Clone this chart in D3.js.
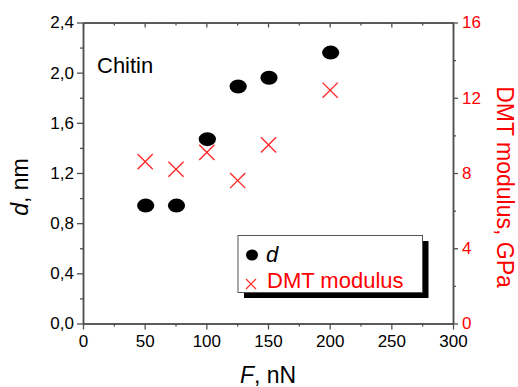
<!DOCTYPE html>
<html><head><meta charset="utf-8">
<script src="https://cdn.jsdelivr.net/npm/d3@7"></script>
<style>
html,body{margin:0;padding:0;background:#fff;}
svg{display:block;font-family:"Liberation Sans",Arial,sans-serif;}
</style></head>
<body>
<svg id="chart" width="518" height="387"></svg>
<script>
const forceNN = [50, 75, 100, 125, 150, 200];
const dValues = [0.94, 0.94, 1.47, 1.89, 1.96, 2.16];
const dmtValues = [8.6, 8.2, 9.1, 7.6, 9.5, 12.4];
const xTicks = [0, 50, 100, 150, 200, 250, 300];
const xMinor = [25, 75, 125, 175, 225, 275];
const yLeftTicks = [0, 0.4, 0.8, 1.2, 1.6, 2.0, 2.4];
const yLeftMinor = [0.2, 0.6, 1.0, 1.4, 1.8, 2.2];
const yRightTicks = [0, 4, 8, 12, 16];
const yRightMinor = [2, 6, 10, 14];

const svg = d3.select("#chart");
const L = 83, R = 453, T = 22.5, B = 323.5;
const axisColor = "#505050";

const x = d3.scaleLinear().domain([0, 300]).range([L, R]);
const yL = d3.scaleLinear().domain([0, 2.4]).range([B, T]);
const yR = d3.scaleLinear().domain([0, 16]).range([B, T]);

const comma = v => d3.format(".1f")(v).replace(".", ",");

function style(g, color) {
  g.selectAll("path.domain").attr("stroke", axisColor).attr("stroke-width", 1.5);
  g.selectAll(".tick line").attr("stroke", axisColor).attr("stroke-width", 1.3);
  g.selectAll(".tick text").attr("fill", color).style("font-size", "17px")
    .style("font-family", '"Liberation Sans",Arial,sans-serif');
}

// bottom axis
let g = svg.append("g").attr("transform", `translate(0,${B})`)
  .call(d3.axisBottom(x).tickValues(xTicks).tickFormat(d3.format("d")).tickSize(6).tickSizeOuter(0).tickPadding(5));
style(g, "#000");
g = svg.append("g").attr("transform", `translate(0,${B})`)
  .call(d3.axisBottom(x).tickValues(xMinor).tickFormat("").tickSize(3).tickSizeOuter(0));
style(g, "#000");
// top axis (inward ticks)
g = svg.append("g").attr("transform", `translate(0,${T})`)
  .call(d3.axisBottom(x).tickValues(xTicks).tickFormat("").tickSize(5).tickSizeOuter(0));
style(g, "#000");
g = svg.append("g").attr("transform", `translate(0,${T})`)
  .call(d3.axisBottom(x).tickValues(xMinor).tickFormat("").tickSize(3).tickSizeOuter(0));
style(g, "#000");
// left axis
g = svg.append("g").attr("transform", `translate(${L},0)`)
  .call(d3.axisLeft(yL).tickValues(yLeftTicks).tickFormat(comma).tickSize(6).tickSizeOuter(0).tickPadding(3));
style(g, "#000");
g = svg.append("g").attr("transform", `translate(${L},0)`)
  .call(d3.axisLeft(yL).tickValues(yLeftMinor).tickFormat("").tickSize(3).tickSizeOuter(0));
style(g, "#000");
// right axis
g = svg.append("g").attr("transform", `translate(${R},0)`)
  .call(d3.axisRight(yR).tickValues(yRightTicks).tickFormat(d3.format("d")).tickSize(5).tickSizeOuter(0).tickPadding(4));
style(g, "#ff0000");
g = svg.append("g").attr("transform", `translate(${R},0)`)
  .call(d3.axisRight(yR).tickValues(yRightMinor).tickFormat("").tickSize(3).tickSizeOuter(0));
style(g, "#ff0000");

// data: d (black ellipses)
svg.append("g").selectAll("ellipse").data(forceNN).join("ellipse")
  .attr("cx", (f) => x(f) + 1)
  .attr("cy", (f, i) => yL(dValues[i]))
  .attr("rx", 8.6).attr("ry", 7)
  .attr("fill", "#000");

// data: DMT (red crosses)
const cs = 7.6;
const crosses = svg.append("g").selectAll("g").data(forceNN).join("g")
  .attr("transform", (f, i) => `translate(${x(f) + 0.5},${yR(dmtValues[i])})`);
crosses.append("path")
  .attr("d", `M${-cs},${-cs}L${cs},${cs}M${-cs},${cs}L${cs},${-cs}`)
  .attr("stroke", "#ff2a2a").attr("stroke-width", 1.4).attr("fill", "none");

// Chitin label
svg.append("text").attr("x", 97).attr("y", 72.5).text("Chitin")
  .style("font-size", "22px").attr("fill", "#000");

// legend
const lg = svg.append("g");
lg.append("rect").attr("x", 244).attr("y", 241).attr("width", 184.5).attr("height", 57).attr("fill", "#000");
lg.append("rect").attr("x", 238).attr("y", 235.5).attr("width", 184.5).attr("height", 57)
  .attr("fill", "#fff").attr("stroke", "#555").attr("stroke-width", 1);
lg.append("ellipse").attr("cx", 252).attr("cy", 255).attr("rx", 6).attr("ry", 5.6).attr("fill", "#000");
lg.append("text").attr("x", 266).attr("y", 262).text("d")
  .style("font-size", "22px").style("font-style", "italic").attr("fill", "#000");
const ls = 5;
lg.append("path").attr("transform", "translate(251,284)")
  .attr("d", `M${-ls},${-ls}L${ls},${ls}M${-ls},${ls}L${ls},${-ls}`)
  .attr("stroke", "#ff2a2a").attr("stroke-width", 1.2).attr("fill", "none");
lg.append("text").attr("x", 267).attr("y", 288).text("DMT modulus")
  .style("font-size", "22px").attr("fill", "#ff0000");

// axis titles
const xt = svg.append("text").attr("x", 268).attr("y", 383).attr("text-anchor", "middle")
  .style("font-size", "23px").attr("fill", "#000");
xt.append("tspan").style("font-style", "italic").text("F");
xt.append("tspan").text(", nN");

const ylt = svg.append("text").attr("transform", "translate(28,187) rotate(-90)")
  .attr("text-anchor", "middle").style("font-size", "23px").attr("fill", "#000");
ylt.append("tspan").style("font-style", "italic").text("d");
ylt.append("tspan").text(", nm");

svg.append("text").attr("transform", "translate(497,187) rotate(90)")
  .attr("text-anchor", "middle").style("font-size", "23px").attr("fill", "#ff0000")
  .text("DMT modulus, GPa");
</script>
</body></html>
